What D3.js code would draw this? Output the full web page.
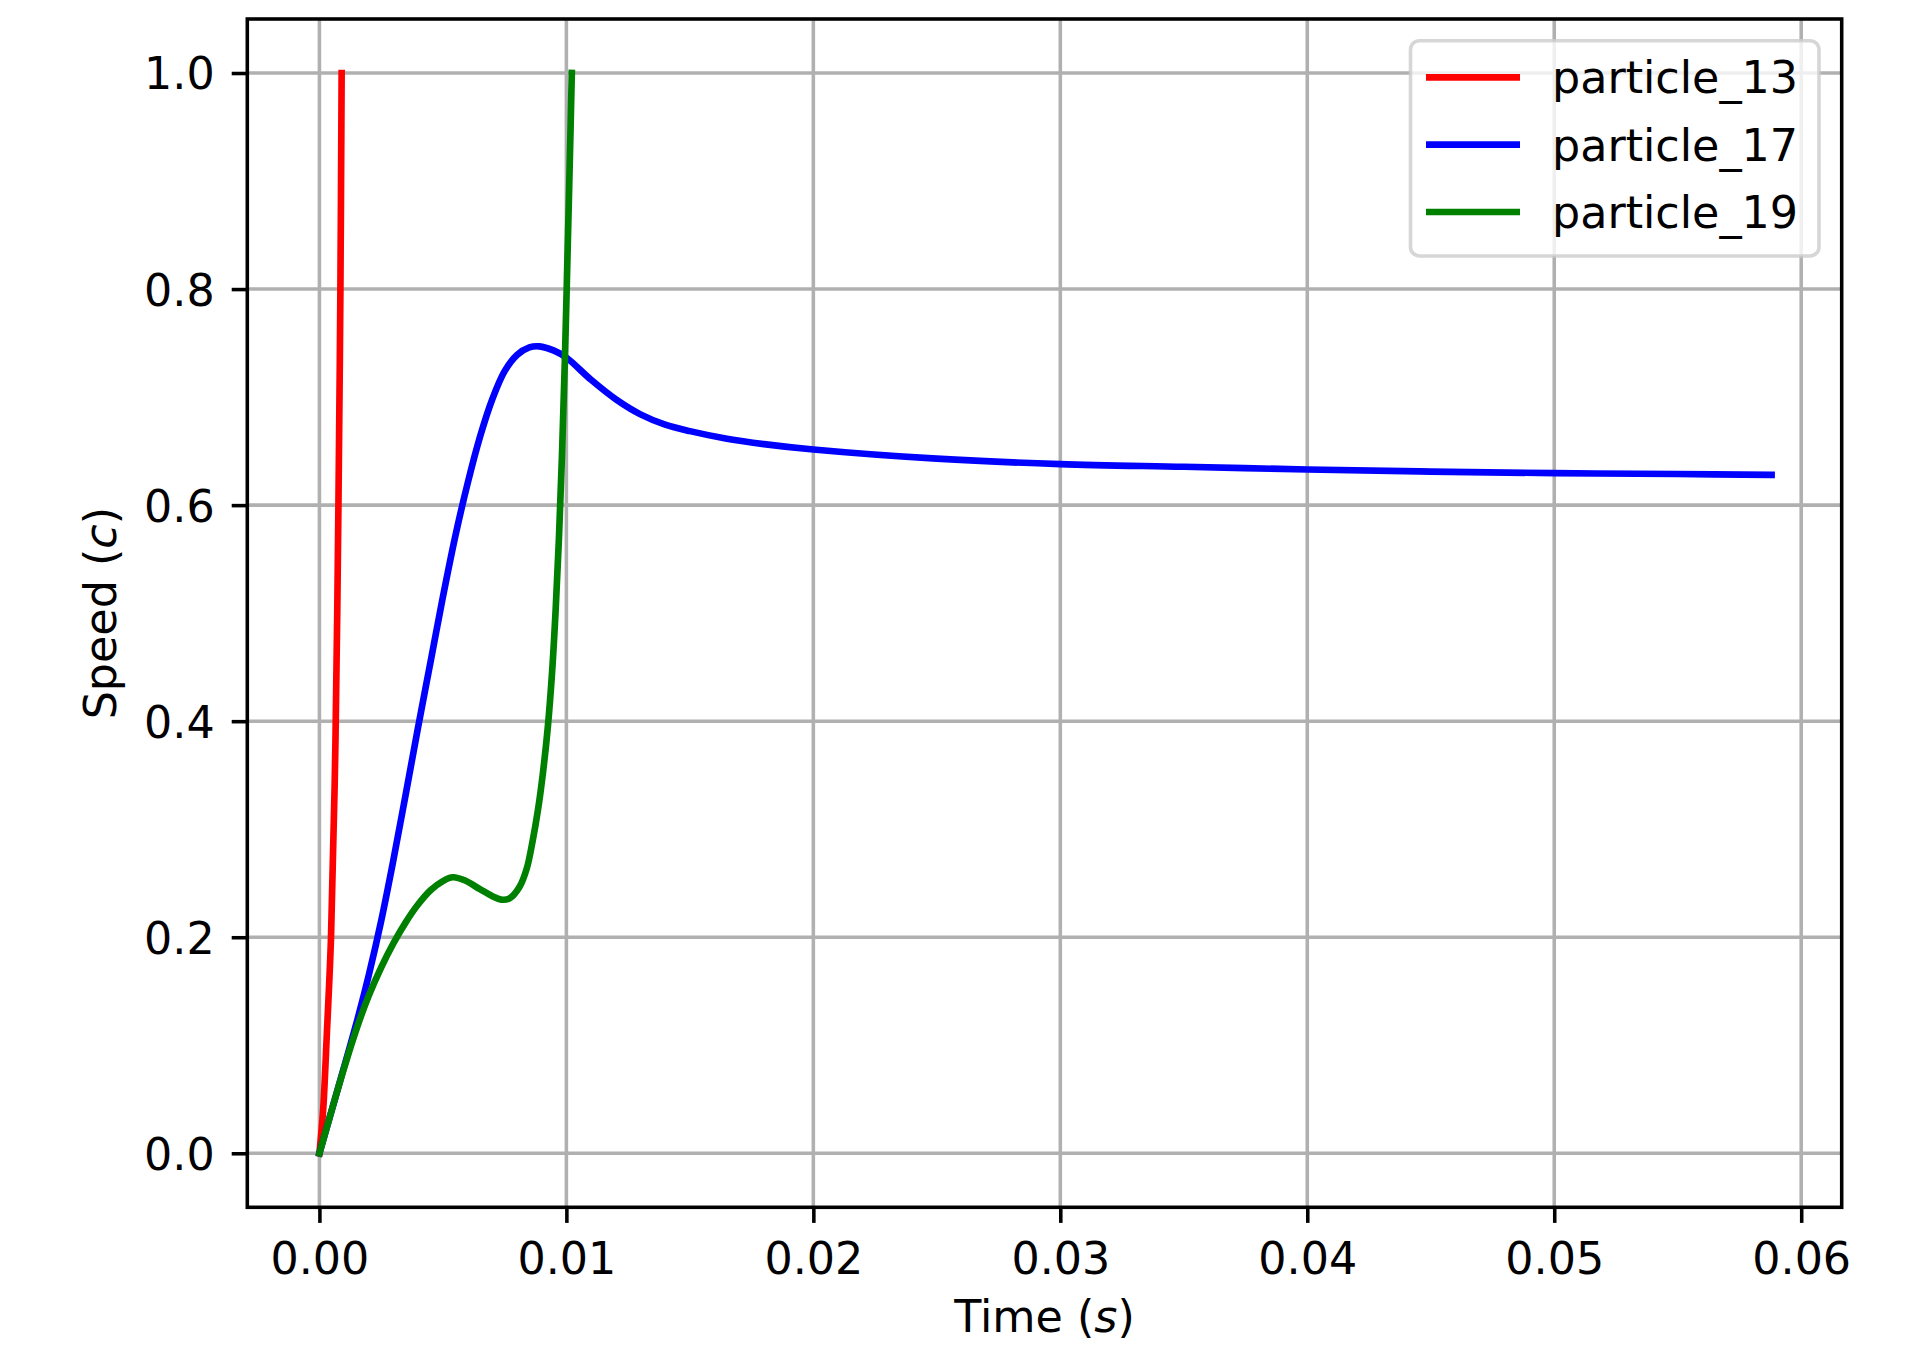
<!DOCTYPE html>
<html>
<head>
<meta charset="utf-8">
<script src="https://cdn.jsdelivr.net/npm/d3@7"></script>
<style>
  body { margin: 0; background: #fff; }
  svg text { font-family: "DejaVu Sans", sans-serif; fill: #000; }
</style>
</head>
<body>
<svg id="chart"></svg>
<script>
// series names + colours (legend order)
const seriesNames = ["particle_13", "particle_17", "particle_19"];
const seriesColors = ["#ff0000", "#0000ff", "#008000"];

// particle_13
const p13Time  = [0, 0.00008, 0.00016, 0.0003, 0.00047, 0.00065, 0.00077, 0.00085, 0.0009];
const p13Speed = [0, 0.02, 0.043, 0.11, 0.2, 0.382, 0.6, 0.8, 1.0];

// particle_17
const p17Time  = [0, 0.0004, 0.0008, 0.0012, 0.0016, 0.002, 0.0025, 0.003, 0.0035, 0.004,
                  0.0045, 0.005, 0.0055, 0.006, 0.0065, 0.007, 0.0075, 0.008, 0.0085, 0.0089,
                  0.0095, 0.01, 0.011, 0.012, 0.013, 0.014, 0.015, 0.0165, 0.018, 0.02,
                  0.025, 0.03, 0.035, 0.04, 0.045, 0.05, 0.055, 0.0588];
const p17Speed = [0, 0.032, 0.064, 0.096, 0.129, 0.165, 0.215, 0.272, 0.333, 0.395,
                  0.455, 0.515, 0.571, 0.62, 0.663, 0.698, 0.724, 0.739, 0.746, 0.747,
                  0.743, 0.7365, 0.716, 0.698, 0.684, 0.6745, 0.6685, 0.6615, 0.6565, 0.6515,
                  0.643, 0.638, 0.6355, 0.633, 0.631, 0.6296, 0.6288, 0.628];

// particle_19
const p19Time  = [0, 0.0005, 0.001, 0.0015, 0.002, 0.0025, 0.003, 0.0035, 0.004, 0.0045,
                  0.005, 0.0054, 0.0059, 0.0065, 0.007, 0.00736, 0.0077, 0.0081, 0.0084, 0.00864,
                  0.00885, 0.00905, 0.00925, 0.00942, 0.00957, 0.0097, 0.00982, 0.00994, 0.01006,
                  0.01014, 0.01022];
const p19Speed = [0, 0.04, 0.079, 0.115, 0.146, 0.172, 0.1945, 0.214, 0.2305, 0.2435,
                  0.252, 0.2555, 0.2525, 0.2445, 0.238, 0.2348, 0.236, 0.2465, 0.264, 0.29,
                  0.318, 0.352, 0.395, 0.445, 0.505, 0.57, 0.645, 0.735, 0.845,
                  0.92, 1.0];

const seriesTimes  = [p13Time, p17Time, p19Time];
const seriesSpeeds = [p13Speed, p17Speed, p19Speed];

// ticks
const xTicks = [0, 0.01, 0.02, 0.03, 0.04, 0.05, 0.06];
const xTickLabels = ["0.00", "0.01", "0.02", "0.03", "0.04", "0.05", "0.06"];
const yTicks = [0, 0.2, 0.4, 0.6, 0.8, 1.0];
const yTickLabels = ["0.0", "0.2", "0.4", "0.6", "0.8", "1.0"];

const width = 1923, height = 1352;
const frame = {left: 247.3, right: 1841.7, top: 19, bottom: 1207.3};
const fs = 44.4, lw = 6.67, thin = 3.56, tickLen = 15.6;

const svg = d3.select("#chart").attr("width", width).attr("height", height);

const x = d3.scaleLinear().domain([-0.00292, 0.06164]).range([frame.left, frame.right]);
const y = d3.scaleLinear().domain([-0.05, 1.05]).range([frame.bottom, frame.top]);

// grid
const grid = svg.append("g");
grid.selectAll(".gx").data(xTicks).enter().append("line")
    .attr("x1", d => x(d)).attr("x2", d => x(d))
    .attr("y1", frame.top).attr("y2", frame.bottom)
    .attr("stroke", "#b0b0b0").attr("stroke-width", thin);
grid.selectAll(".gy").data(yTicks).enter().append("line")
    .attr("y1", d => y(d)).attr("y2", d => y(d))
    .attr("x1", frame.left).attr("x2", frame.right)
    .attr("stroke", "#b0b0b0").attr("stroke-width", thin);

// lines
const line = d3.line().x(d => x(d[0])).y(d => y(d[1])).curve(d3.curveCatmullRom.alpha(0.5));
seriesNames.forEach((name, i) => {
    const pts = seriesTimes[i].map((t, j) => [t, seriesSpeeds[i][j]]);
    svg.append("path").datum(pts)
        .attr("d", line)
        .attr("fill", "none")
        .attr("stroke", seriesColors[i])
        .attr("stroke-width", lw)
        .attr("stroke-linecap", "square")
        .attr("stroke-linejoin", "round");
});

// axes
const xAxis = d3.axisBottom(x).tickValues(xTicks).tickFormat((d, i) => xTickLabels[i])
    .tickSize(tickLen).tickPadding(12);
const yAxis = d3.axisLeft(y).tickValues(yTicks).tickFormat((d, i) => yTickLabels[i])
    .tickSize(tickLen).tickPadding(17);

const gx = svg.append("g").attr("transform", `translate(0,${frame.bottom})`).call(xAxis);
const gy = svg.append("g").attr("transform", `translate(${frame.left},0)`).call(yAxis);
[gx, gy].forEach(g => {
    g.select(".domain").remove();
    g.selectAll(".tick line").attr("stroke", "#000").attr("stroke-width", thin);
    g.selectAll(".tick text").attr("font-size", fs).attr("font-family", "DejaVu Sans").attr("fill", "#000");
});
gx.selectAll(".tick text").attr("dy", null).attr("y", null)
    .attr("transform", `translate(0,${1274 - frame.bottom})`);
gy.selectAll(".tick text").attr("dy", "0.36em");

// spines
svg.append("rect")
    .attr("x", frame.left).attr("y", frame.top)
    .attr("width", frame.right - frame.left).attr("height", frame.bottom - frame.top)
    .attr("fill", "none").attr("stroke", "#000").attr("stroke-width", thin);

// axis labels
const xl = svg.append("text")
    .attr("x", (frame.left + frame.right) / 2).attr("y", 1332)
    .attr("text-anchor", "middle").attr("font-size", fs);
xl.append("tspan").text("Time (");
xl.append("tspan").attr("font-style", "italic").text("s");
xl.append("tspan").text(")");

const yl = svg.append("text")
    .attr("transform", `translate(116,${(frame.top + frame.bottom) / 2}) rotate(-90)`)
    .attr("text-anchor", "middle").attr("font-size", fs);
yl.append("tspan").text("Speed (");
yl.append("tspan").attr("font-style", "italic").text("c");
yl.append("tspan").text(")");

// legend
const legend = {left: 1410.5, right: 1819, top: 40.7, bottom: 256};
const rowY = d3.scalePoint().domain(seriesNames).range([77.3, 212]);
svg.append("rect")
    .attr("x", legend.left).attr("y", legend.top)
    .attr("width", legend.right - legend.left).attr("height", legend.bottom - legend.top)
    .attr("rx", 9).attr("ry", 9)
    .attr("fill", "rgba(255,255,255,0.8)")
    .attr("stroke", "rgba(204,204,204,0.8)").attr("stroke-width", thin);
const items = svg.append("g").selectAll("g").data(seriesNames).enter().append("g");
items.append("line")
    .attr("x1", 1426).attr("x2", 1520)
    .attr("y1", d => rowY(d)).attr("y2", d => rowY(d))
    .attr("stroke", (d, i) => seriesColors[i]).attr("stroke-width", lw);
items.append("text")
    .attr("x", 1552).attr("y", d => rowY(d) + 16)
    .attr("font-size", fs)
    .text(d => d);
</script>
</body>
</html>
